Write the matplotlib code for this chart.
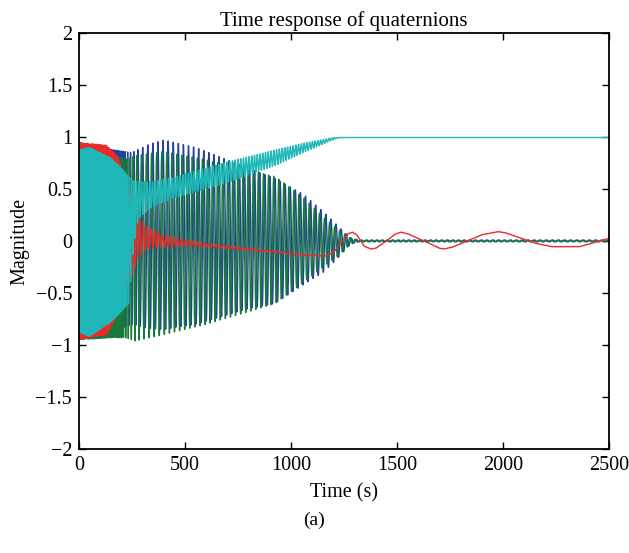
import numpy as np
import matplotlib
matplotlib.use("Agg")
import matplotlib.pyplot as plt

plt.rcParams['font.family'] = ['Liberation Serif', 'DejaVu Serif']

# envelope keypoints (time in s, upper / lower edge)
blue_t = [0, 150, 250, 330, 400, 550, 800, 925, 1058, 1153, 1219, 1281, 1320, 2500]
blue_hi = [0.93, 0.88, 0.85, 0.93, 0.97, 0.9, 0.7, 0.6, 0.45, 0.28, 0.15, 0.03, 0.01, 0.01]
blue_lo = [-0.93, -0.88, -0.8, -0.84, -0.85, -0.8, -0.65, -0.6, -0.42, -0.3, -0.17, -0.03, -0.008, -0.008]

green_t = [0, 150, 218, 265, 400, 600, 800, 925, 1058, 1153, 1219, 1281, 1320, 2500]
green_hi = [0.95, 0.85, 0.78, 0.82, 0.86, 0.78, 0.68, 0.62, 0.42, 0.23, 0.12, 0.03, 0.007, 0.007]
green_lo = [-0.95, -0.93, -0.93, -0.96, -0.9, -0.8, -0.68, -0.6, -0.4, -0.25, -0.15, -0.03, -0.007, -0.007]

red_t = [0, 130, 180, 230, 280, 330, 400, 500, 600, 800, 1000, 1100, 1170,
         1200, 1240, 1270, 1290, 1310, 1345, 1376, 1400, 1450, 1490, 1518, 1550,
         1650, 1700, 1722, 1760, 1900, 1976, 2010, 2150, 2230, 2360, 2440, 2500]
red_hi = [0.95, 0.92, 0.82, 0.55, 0.22, 0.13, 0.06, 0.01, -0.02, -0.07, -0.112, -0.135, -0.145,
          -0.11, -0.01, 0.07, 0.085, 0.06, -0.05, -0.077, -0.07, 0.0, 0.065, 0.085, 0.07,
          -0.02, -0.07, -0.077, -0.06, 0.06, 0.09, 0.08, -0.02, -0.055, -0.055, -0.01, 0.025]
red_lo = [-0.95, -0.9, -0.72, -0.45, -0.15, -0.07, -0.06, -0.05, -0.06, -0.09, -0.128, -0.145, -0.145,
          -0.11, -0.01, 0.07, 0.085, 0.06, -0.05, -0.077, -0.07, 0.0, 0.065, 0.085, 0.07,
          -0.02, -0.07, -0.077, -0.06, 0.06, 0.09, 0.08, -0.02, -0.055, -0.055, -0.01, 0.025]

cyan_t = [0, 50, 150, 200, 235, 255, 280, 346, 451, 690, 925, 1058, 1200, 1230, 2500]
cyan_hi = [0.88, 0.9, 0.8, 0.7, 0.62, 0.58, 0.57, 0.57, 0.615, 0.755, 0.875, 0.94, 0.995, 0.995, 0.995]
cyan_lo = [-0.88, -0.92, -0.78, -0.68, -0.6, -0.1, 0.22, 0.33, 0.415, 0.555, 0.725, 0.85, 0.975, 0.995, 0.995]

# oscillation period (s) seen at a few times
period_t = [0, 200, 300, 1250, 2500]
period_bg = [5, 8, 24, 24, 30]
period_red = [6, 8, 18, 18, 18]
period_cyan = [7, 8, 13, 13, 13]

dt = 0.25
t = np.arange(0, 2500 + dt, dt)


def wiggle(tk, hi, lo, per, phase0):
    u = np.interp(t, tk, hi)
    l = np.interp(t, tk, lo)
    p = np.interp(t, period_t, per)
    ph = phase0 + 2 * np.pi * np.cumsum(dt / p)
    return (u + l) / 2 + (u - l) / 2 * np.sin(ph)


fig = plt.figure(figsize=(6.29, 5.53), dpi=100)
ax = fig.add_axes([79 / 629, 1 - 449 / 553, 530 / 629, 416 / 553])

ax.plot(t, wiggle(blue_t, blue_hi, blue_lo, period_bg, 0.0), color='#26409c', lw=1.0)
ax.plot(t, wiggle(green_t, green_hi, green_lo, period_bg, np.pi / 2), color='#167a3c', lw=1.0)
ax.plot(t, wiggle(red_t, red_hi, red_lo, period_red, 0.7), color='#ec2a2a', lw=1.0)
ax.plot(t, wiggle(cyan_t, cyan_hi, cyan_lo, period_cyan, 1.3), color='#1fb7b7', lw=1.0)

ax.set_xlim(0, 2500)
ax.set_ylim(-2, 2)
ax.set_xticks([0, 500, 1000, 1500, 2000, 2500])
ax.set_yticks(np.arange(-2, 2.01, 0.5))
ax.set_yticklabels(['\u22122', '\u22121.5', '\u22121', '\u22120.5', '0', '0.5', '1', '1.5', '2'])
ax.tick_params(direction='in', top=True, right=True, length=5, width=1, labelsize=14.5, pad=5)
for s in ax.spines.values():
    s.set_linewidth(1.3)

ax.set_title('Time response of quaternions', fontsize=15, pad=5)
ax.set_xlabel('Time (s)', fontsize=14.5, labelpad=6)
ax.set_ylabel('Magnitude', fontsize=14.5, labelpad=4)
fig.text(0.5, 1 - 520 / 553, '(a)', ha='center', va='center', fontsize=14)

fig.savefig('out.png', dpi=100)
